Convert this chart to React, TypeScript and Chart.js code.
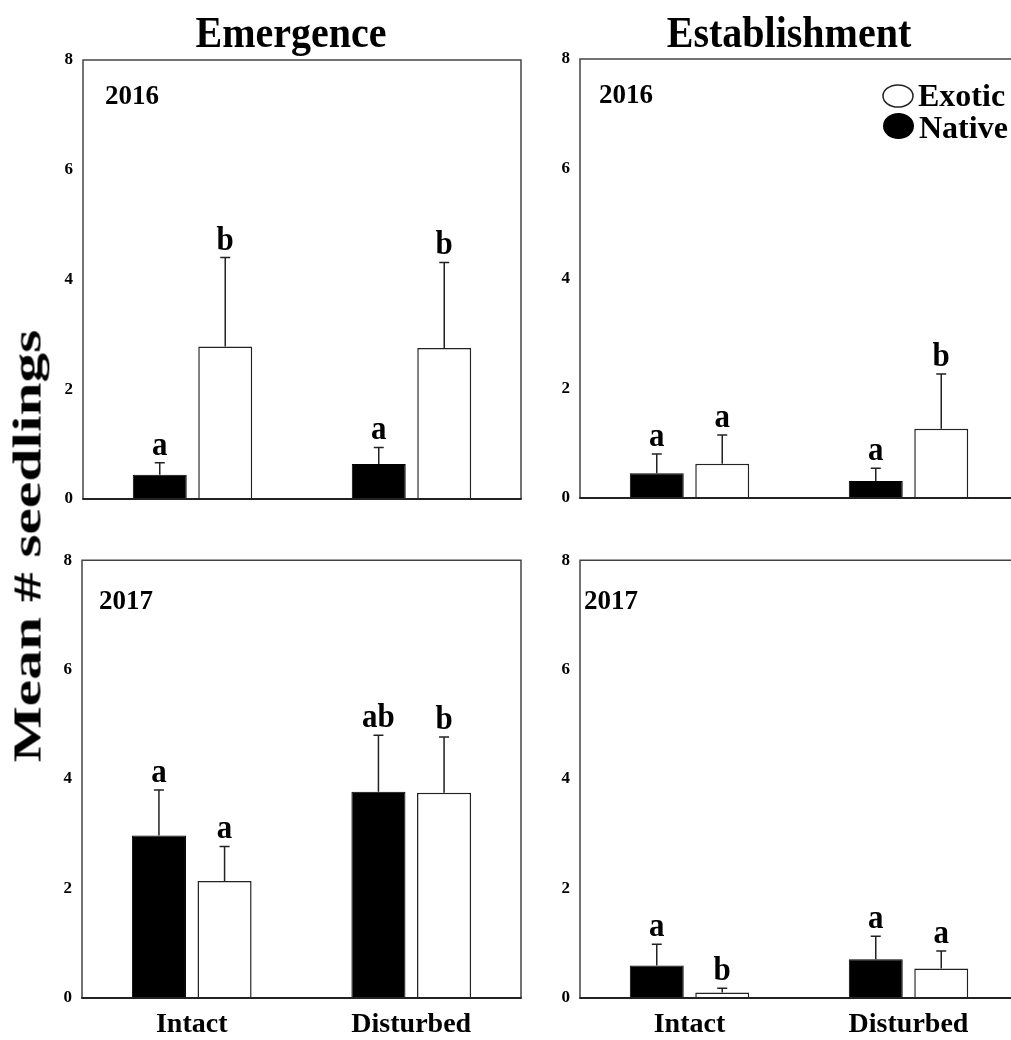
import React, { useEffect, useRef } from 'react';
import { Chart, registerables } from 'chart.js';
Chart.register(...registerables);

// ---------- data ----------
const categories = ['Intact', 'Disturbed'];
const yMin = 0;
const yMax = 8;
const yStep = 2;

const emergence2016Native = [0.44, 0.64];
const emergence2016NativeSE = [0.22, 0.3];
const emergence2016Exotic = [2.78, 2.75];
const emergence2016ExoticSE = [1.62, 1.56];
const emergence2016NativeLetters = ['a', 'a'];
const emergence2016ExoticLetters = ['b', 'b'];

const establishment2016Native = [0.45, 0.31];
const establishment2016NativeSE = [0.35, 0.23];
const establishment2016Exotic = [0.625, 1.26];
const establishment2016ExoticSE = [0.525, 1.0];
const establishment2016NativeLetters = ['a', 'a'];
const establishment2016ExoticLetters = ['a', 'b'];

const emergence2017Native = [2.97, 3.77];
const emergence2017NativeSE = [0.83, 1.03];
const emergence2017Exotic = [2.14, 3.75];
const emergence2017ExoticSE = [0.63, 1.02];
const emergence2017NativeLetters = ['a', 'ab'];
const emergence2017ExoticLetters = ['a', 'b'];

const establishment2017Native = [0.595, 0.71];
const establishment2017NativeSE = [0.385, 0.42];
const establishment2017Exotic = [0.1, 0.54];
const establishment2017ExoticSE = [0.08, 0.32];
const establishment2017NativeLetters = ['a', 'a'];
const establishment2017ExoticLetters = ['b', 'a'];

const seriesNames = ['Native', 'Exotic'];
const columnTitles = ['Emergence', 'Establishment'];
const yearLabels = ['2016', '2017'];
const yAxisTitle = 'Mean # seedlings';

const SERIF = '"Liberation Serif", "Times New Roman", serif';

// ---------- plugins ----------
const framePlugin = {
  id: 'frame',
  afterDatasetsDraw(chart: any) {
    const { ctx, chartArea: a } = chart;
    ctx.save();
    ctx.strokeStyle = '#444';
    ctx.lineWidth = 1.5;
    ctx.beginPath();
    ctx.moveTo(a.left, a.bottom);
    ctx.lineTo(a.left, a.top);
    ctx.lineTo(a.right, a.top);
    ctx.lineTo(a.right, a.bottom);
    ctx.stroke();
    ctx.strokeStyle = '#222';
    ctx.lineWidth = 2;
    ctx.beginPath();
    ctx.moveTo(a.left - 0.75, a.bottom);
    ctx.lineTo(a.right + 0.75, a.bottom);
    ctx.stroke();
    ctx.restore();
  },
};

const errorPlugin = {
  id: 'errLetters',
  afterDatasetsDraw(chart: any) {
    const ctx = chart.ctx;
    const ys = chart.scales.y;
    chart.data.datasets.forEach((ds: any, di: number) => {
      const meta = chart.getDatasetMeta(di);
      meta.data.forEach((bar: any, i: number) => {
        const v = ds.data[i];
        const e = ds.errors[i];
        const top = ys.getPixelForValue(v);
        const cap = ys.getPixelForValue(v + e);
        ctx.save();
        ctx.strokeStyle = '#222';
        ctx.lineWidth = 1.5;
        ctx.beginPath();
        ctx.moveTo(bar.x, top);
        ctx.lineTo(bar.x, cap);
        ctx.moveTo(bar.x - 5, cap);
        ctx.lineTo(bar.x + 5, cap);
        ctx.stroke();
        ctx.save();
        ctx.translate(bar.x, cap - 8);
        ctx.scale(1, 1.1);
        ctx.font = 'bold 31px ' + SERIF;
        ctx.textAlign = 'center';
        ctx.textBaseline = 'alphabetic';
        ctx.fillStyle = '#000';
        ctx.fillText(ds.letters[i], 0, 0);
        ctx.restore();
        ctx.restore();
      });
    });
  },
};

const annotPlugin = {
  id: 'annot',
  afterDraw(chart: any, _args: any, opts: any) {
    const ctx = chart.ctx;
    ctx.save();
    ctx.fillStyle = '#000';
    if (opts.title) {
      ctx.save();
      ctx.translate(opts.titleX, opts.titleY);
      ctx.scale(1, 1.13);
      ctx.font = 'bold 40px ' + SERIF;
      ctx.textAlign = 'center';
      ctx.textBaseline = 'alphabetic';
      ctx.fillText(opts.title, 0, 0);
      ctx.restore();
    }
    if (opts.year) {
      ctx.font = 'bold 27px ' + SERIF;
      ctx.textAlign = 'left';
      ctx.textBaseline = 'alphabetic';
      ctx.fillText(opts.year, opts.yearX, opts.yearY);
    }
    if (opts.legend) {
      const lx = opts.legendX;
      const ly = opts.legendY;
      ctx.font = 'bold 32px ' + SERIF;
      ctx.textAlign = 'left';
      ctx.textBaseline = 'alphabetic';
      // Exotic (open)
      ctx.beginPath();
      ctx.ellipse(lx, ly, 15, 11, 0, 0, Math.PI * 2);
      ctx.lineWidth = 1.5;
      ctx.strokeStyle = '#222';
      ctx.fillStyle = '#fff';
      ctx.fill();
      ctx.stroke();
      ctx.fillStyle = '#000';
      ctx.fillText(seriesNames[1], lx + 20, ly + 10);
      // Native (filled)
      ctx.beginPath();
      ctx.ellipse(lx + 0.5, ly + 30, 15.5, 13, 0, 0, Math.PI * 2);
      ctx.fill();
      ctx.fillText(seriesNames[0], lx + 21, ly + 42);
    }
    ctx.restore();
  },
};

// ---------- panels ----------
type Panel = {
  left: number; top: number; width: number; height: number;
  yAxisW: number; padTop: number; padRight: number; xAxisH: number;
  showX: boolean;
  native: number[]; nativeSE: number[]; exotic: number[]; exoticSE: number[];
  nativeLetters: string[]; exoticLetters: string[];
  annot: any;
};

const panels: Panel[] = [
  {
    left: 0, top: 0, width: 540, height: 540,
    yAxisW: 83, padTop: 60, padRight: 19, xAxisH: 41, showX: false,
    native: emergence2016Native, nativeSE: emergence2016NativeSE,
    exotic: emergence2016Exotic, exoticSE: emergence2016ExoticSE,
    nativeLetters: emergence2016NativeLetters, exoticLetters: emergence2016ExoticLetters,
    annot: { title: columnTitles[0], titleX: 291, titleY: 47, year: yearLabels[0], yearX: 105, yearY: 104 },
  },
  {
    left: 540, top: 0, width: 500, height: 540,
    yAxisW: 40, padTop: 59, padRight: 22, xAxisH: 42, showX: false,
    native: establishment2016Native, nativeSE: establishment2016NativeSE,
    exotic: establishment2016Exotic, exoticSE: establishment2016ExoticSE,
    nativeLetters: establishment2016NativeLetters, exoticLetters: establishment2016ExoticLetters,
    annot: { title: columnTitles[1], titleX: 249, titleY: 47, year: yearLabels[0], yearX: 59, yearY: 103, legend: true, legendX: 358, legendY: 96 },
  },
  {
    left: 0, top: 540, width: 540, height: 500,
    yAxisW: 82, padTop: 18, padRight: 19, xAxisH: 42, showX: true,
    native: emergence2017Native, nativeSE: emergence2017NativeSE,
    exotic: emergence2017Exotic, exoticSE: emergence2017ExoticSE,
    nativeLetters: emergence2017NativeLetters, exoticLetters: emergence2017ExoticLetters,
    annot: { year: yearLabels[1], yearX: 99, yearY: 69 },
  },
  {
    left: 540, top: 540, width: 500, height: 500,
    yAxisW: 40, padTop: 18, padRight: 22, xAxisH: 42, showX: true,
    native: establishment2017Native, nativeSE: establishment2017NativeSE,
    exotic: establishment2017Exotic, exoticSE: establishment2017ExoticSE,
    nativeLetters: establishment2017NativeLetters, exoticLetters: establishment2017ExoticLetters,
    annot: { year: yearLabels[1], yearX: 44, yearY: 69 },
  },
];

function PanelChart({ p }: { p: Panel }) {
  const ref = useRef<HTMLCanvasElement | null>(null);
  useEffect(() => {
    if (!ref.current) return;
    const chart = new Chart(ref.current, {
      type: 'bar',
      data: {
        labels: categories,
        datasets: [
          {
            label: seriesNames[0],
            data: p.native,
            errors: p.nativeSE,
            letters: p.nativeLetters,
            backgroundColor: '#000',
            borderColor: '#000',
            borderWidth: 1,
          } as any,
          {
            label: seriesNames[1],
            data: p.exotic,
            errors: p.exoticSE,
            letters: p.exoticLetters,
            backgroundColor: '#fff',
            borderColor: '#222',
            borderWidth: 1.5,
          } as any,
        ],
      },
      options: {
        responsive: false,
        animation: false,
        devicePixelRatio: 1,
        categoryPercentage: 0.598,
        barPercentage: 0.824,
        layout: { padding: { left: 0, top: p.padTop, right: p.padRight, bottom: 0 } },
        plugins: {
          legend: { display: false },
          tooltip: { enabled: false },
          title: { display: false },
          annot: p.annot,
        } as any,
        scales: {
          x: {
            type: 'category',
            grid: { display: false, drawTicks: false },
            border: { display: false },
            ticks: {
              display: p.showX,
              padding: 10,
              color: '#000',
              font: { family: SERIF, size: 28, weight: 'bold' },
            },
            afterFit: (s: any) => { s.height = p.xAxisH; },
          },
          y: {
            type: 'linear',
            min: yMin,
            max: yMax,
            grid: { display: false, drawTicks: false },
            border: { display: false },
            ticks: {
              stepSize: yStep,
              padding: 10,
              color: '#000',
              font: { family: SERIF, size: 17, weight: 'bold' },
            },
            afterFit: (s: any) => { s.width = p.yAxisW; },
          },
        },
      } as any,
      plugins: [framePlugin, errorPlugin, annotPlugin],
    });
    return () => chart.destroy();
  }, [p]);
  return (
    <canvas
      ref={ref}
      width={p.width}
      height={p.height}
      style={{ position: 'absolute', left: p.left, top: p.top, width: p.width, height: p.height }}
    />
  );
}

export default function App() {
  return (
    <div
      style={{
        position: 'absolute', left: 0, top: 0, width: 1011, height: 1040,
        overflow: 'hidden', background: '#fff',
      }}
    >
      {panels.map((p, i) => <PanelChart key={i} p={p} />)}
      <div
        style={{
          position: 'absolute', left: 27, top: 546,
          fontFamily: SERIF, fontWeight: 'bold', fontSize: 41, lineHeight: 1,
          whiteSpace: 'nowrap', color: '#000',
          transform: 'translate(-50%, -50%) rotate(-90deg) scaleX(1.45)',
        }}
      >
        {yAxisTitle}
      </div>
    </div>
  );
}
